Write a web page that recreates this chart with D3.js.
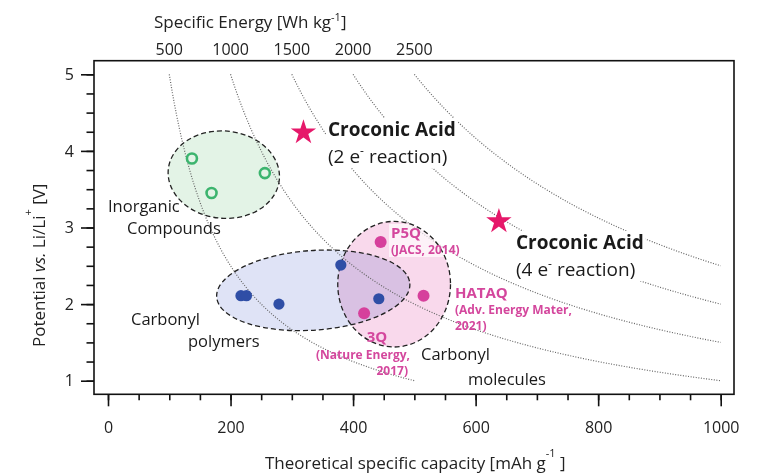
<!DOCTYPE html>
<html>
<head>
<meta charset="utf-8">
<script src="https://cdn.jsdelivr.net/npm/d3@7"></script>
<style>
  body { margin: 0; background: #fff; }
  svg { display: block; font-family: "Open Sans", sans-serif; }
</style>
</head>
<body>
<svg id="chart"></svg>
<script>
/* ------------ DATA --------------------------------------------------- */
const xTicks = [0, 200, 400, 600, 800, 1000];
const yTicks = [1, 2, 3, 4, 5];
const energyLevels = [500, 1000, 1500, 2000, 2500];           // Wh kg-1

// [capacity mAh g-1, potential V]
const inorganicPts = [[137, 3.90], [169, 3.45], [256, 3.71]];
const polymerPts   = [[217, 2.11], [226, 2.11], [279, 2.00], [380, 2.51], [442, 2.07]];
const moleculePts  = [[445, 2.81], [515, 2.11], [418, 1.88]];
const croconicPts  = [[319, 4.24], [638, 3.08]];

// group ellipses: [cx, cy, rx, ry] in data units, tilt in degrees
const groupShapes = [[189, 3.69, 91, 0.57], [335, 2.18, 158, 0.52], [467, 2.26, 92, 0.82]];
const groupTilt   = [5, -4, 0];

/* ------------ SVG & LAYERS ------------------------------------------- */
const W = 768, H = 476;
const svg = d3.select('#chart').attr('width', W).attr('height', H);

const x = d3.scaleLinear().domain([0, 1000]).range([108, 720.7]);
const y = d3.scaleLinear().domain([1, 5]).range([380.7, 74.3]);
const frame = { l: 94, t: 60.7, r: 734, b: 394.3 };

const fillLayer  = svg.append('g');
const curveLayer = svg.append('g');
const boxLayer   = svg.append('g');
const edgeLayer  = svg.append('g');
const textLayer  = svg.append('g');
const markLayer  = svg.append('g');
const axisLayer  = svg.append('g');

/* ------------ GROUP ELLIPSES ----------------------------------------- */
const groupFill = ['#e3f3e6', '#dfe3f6', '#f9d9ec'];

groupShapes.forEach((s, i) => {
  const cx = x(s[0]), cy = y(s[1]);
  const rx = x(s[2]) - x(0), ry = y(1) - y(1 + s[3]);
  const tr = `rotate(${groupTilt[i]},${cx},${cy})`;
  fillLayer.append('ellipse')
    .attr('cx', cx).attr('cy', cy).attr('rx', rx).attr('ry', ry)
    .attr('transform', tr)
    .attr('fill', groupFill[i])
    .style('mix-blend-mode', 'multiply');
  edgeLayer.append('ellipse')
    .attr('cx', cx).attr('cy', cy).attr('rx', rx).attr('ry', ry)
    .attr('transform', tr)
    .attr('fill', 'none')
    .attr('stroke', '#222')
    .attr('stroke-width', 1.3)
    .attr('stroke-dasharray', '5,3');
});

/* ------------ ISO-ENERGY CURVES (V = E / C) -------------------------- */
const line = d3.line().x(d => x(d[0])).y(d => y(d[1]));

energyLevels.forEach(E => {
  const end = Math.min(1000, E);
  const caps = d3.range(E / 5, end, 4).concat([end]);
  curveLayer.append('path')
    .datum(caps.map(c => [c, E / c]))
    .attr('d', line)
    .attr('fill', 'none')
    .attr('stroke', '#666')
    .attr('stroke-width', 1.2)
    .attr('stroke-dasharray', '1,1.6');

  axisLayer.append('text')
    .attr('x', x(E / 5)).attr('y', 55)
    .attr('text-anchor', 'middle')
    .attr('font-size', 16)
    .attr('fill', '#222')
    .text(E);
});

/* ------------ FRAME & AXES ------------------------------------------- */
axisLayer.append('rect')
  .attr('x', frame.l).attr('y', frame.t)
  .attr('width', frame.r - frame.l).attr('height', frame.b - frame.t)
  .attr('fill', 'none').attr('stroke', '#111').attr('stroke-width', 1.6);

const fmt = d3.format('d');
const xMinor = axisLayer.append('g').attr('transform', `translate(0,${frame.b})`)
  .call(d3.axisBottom(x).tickValues(d3.range(0, 1001, 50)).tickSize(6).tickFormat(''));
const xMajor = axisLayer.append('g').attr('transform', `translate(0,${frame.b})`)
  .call(d3.axisBottom(x).tickValues(xTicks).tickSize(12).tickPadding(15).tickFormat(fmt));
const yMinor = axisLayer.append('g').attr('transform', `translate(${frame.l},0)`)
  .call(d3.axisLeft(y).tickValues(d3.range(1, 5.01, 0.25)).tickSize(7.5).tickFormat(''));
const yMajor = axisLayer.append('g').attr('transform', `translate(${frame.l},0)`)
  .call(d3.axisLeft(y).tickValues(yTicks).tickSize(13).tickPadding(7).tickFormat(fmt));

[xMinor, xMajor, yMinor, yMajor].forEach(g => {
  g.select('.domain').remove();
  g.selectAll('line').attr('stroke', '#111').attr('stroke-width', 1.6);
  g.selectAll('text').attr('font-size', 16).attr('fill', '#222')
    .attr('font-family', '"Open Sans", sans-serif');
});

// axis titles
const xt = axisLayer.append('text').attr('x', 265).attr('y', 469).attr('font-size', 17).attr('fill', '#222');
xt.append('tspan').text('Theoretical specific capacity [mAh g');
xt.append('tspan').attr('dy', -12).attr('font-size', 11).text('-1');
xt.append('tspan').attr('dy', 12).text(' ]');

const tt = axisLayer.append('text').attr('x', 154).attr('y', 28).attr('font-size', 17).attr('fill', '#222');
tt.append('tspan').text('Specific Energy [Wh kg');
tt.append('tspan').attr('dy', -7).attr('font-size', 11).text('-1');
tt.append('tspan').attr('dy', 7).text(']');

const yt = axisLayer.append('text')
  .attr('transform', 'translate(45,347) rotate(-90)')
  .attr('font-size', 17).attr('fill', '#222');
yt.append('tspan').text('Potential ');
yt.append('tspan').attr('font-style', 'italic').text('vs.');
yt.append('tspan').text(' Li/Li');
yt.append('tspan').attr('dy', -13).attr('font-size', 11).text('+');
yt.append('tspan').attr('dy', 13).text('  [V]');

/* ------------ LABELS ------------------------------------------------- */
const PINK = '#d4479d';

function block(lines, boxed) {
  const g = textLayer.append('g');
  lines.forEach(l => {
    const t = g.append('text')
      .attr('x', l.x).attr('y', l.y)
      .attr('font-size', l.size)
      .attr('font-weight', l.bold ? 'bold' : null)
      .attr('fill', l.color || '#1a1a1a')
      .attr('text-anchor', l.anchor || 'start');
    if (l.sup) {
      t.append('tspan').text(l.text[0]);
      t.append('tspan').attr('dy', -8).attr('font-size', 12).text(l.sup);
      t.append('tspan').attr('dy', 8).text(l.text[1]);
    } else {
      t.text(l.text);
    }
  });
  if (boxed) {
    const b = g.node().getBBox();
    boxLayer.append('rect')
      .attr('x', b.x - 2).attr('y', b.y + 2)
      .attr('width', b.width + 4).attr('height', b.height - 3)
      .attr('fill', '#fff')
      .attr('fill-opacity', boxed);
  }
}

block([
  { x: 328, y: 136, size: 19, bold: true, text: 'Croconic Acid' },
  { x: 328, y: 163, size: 19, text: ['(2 e', ' reaction)'], sup: '-' }
], 1);
block([
  { x: 516, y: 249, size: 19, bold: true, text: 'Croconic Acid' },
  { x: 516, y: 276, size: 19, text: ['(4 e', ' reaction)'], sup: '-' }
], 1);
block([
  { x: 108, y: 212, size: 16.5, text: 'Inorganic' },
  { x: 127, y: 234, size: 16.5, text: 'Compounds' }
]);
block([
  { x: 131, y: 325, size: 16.5, text: 'Carbonyl' },
  { x: 188, y: 347, size: 16.5, text: 'polymers' }
]);
block([
  { x: 421, y: 360, size: 16.5, text: 'Carbonyl' },
  { x: 468, y: 385, size: 16.5, text: 'molecules' }
]);
block([
  { x: 391, y: 238, size: 15, bold: true, color: PINK, text: 'P5Q' },
  { x: 391, y: 254, size: 12, bold: true, color: PINK, text: '(JACS, 2014)' }
], 0.65);
block([
  { x: 455, y: 298, size: 15, bold: true, color: PINK, text: 'HATAQ' },
  { x: 455, y: 314, size: 12, bold: true, color: PINK, text: '(Adv. Energy Mater,' },
  { x: 455, y: 330, size: 12, bold: true, color: PINK, text: '2021)' }
]);
block([
  { x: 377, y: 342, size: 15, bold: true, color: PINK, anchor: 'middle', text: '3Q' },
  { x: 410, y: 359, size: 12, bold: true, color: PINK, anchor: 'end', text: '(Nature Energy,' },
  { x: 408, y: 375, size: 12, bold: true, color: PINK, anchor: 'end', text: '2017)' }
]);

/* ------------ MARKS -------------------------------------------------- */
markLayer.selectAll('circle.inorg')
  .data(inorganicPts).join('circle')
  .attr('class', 'inorg')
  .attr('cx', d => x(d[0])).attr('cy', d => y(d[1])).attr('r', 5)
  .attr('fill', 'none').attr('stroke', '#3cb46e').attr('stroke-width', 2.6);

markLayer.selectAll('circle.poly')
  .data(polymerPts).join('circle')
  .attr('class', 'poly')
  .attr('cx', d => x(d[0])).attr('cy', d => y(d[1])).attr('r', 5.6)
  .attr('fill', '#2f4ea6');

markLayer.selectAll('circle.mol')
  .data(moleculePts).join('circle')
  .attr('class', 'mol')
  .attr('cx', d => x(d[0])).attr('cy', d => y(d[1])).attr('r', 6)
  .attr('fill', '#d6409c');

markLayer.selectAll('path.star')
  .data(croconicPts).join('path')
  .attr('class', 'star')
  .attr('transform', d => `translate(${x(d[0])},${y(d[1])})`)
  .attr('d', d3.symbol(d3.symbolStar, 200))
  .attr('fill', '#e6186a');
</script>
</body>
</html>
